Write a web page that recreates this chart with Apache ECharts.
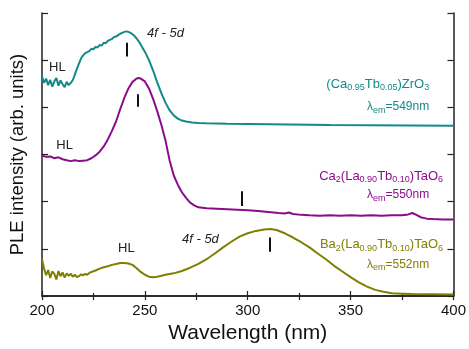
<!DOCTYPE html>
<html>
<head>
<meta charset="utf-8">
<script src="https://cdn.jsdelivr.net/npm/echarts@6/dist/echarts.min.js"></script>
<style>
  html, body { margin: 0; padding: 0; background: #fff; }
  #chart { width: 469px; height: 349px; }
</style>
</head>
<body>
<div id="chart"></div>
<script>
  // wavelength (nm) / intensity, offset curves stacked by hand
  const tealX = [200, 201, 202, 203, 204, 205, 206, 207, 208, 209, 210, 211, 212, 213, 214, 215, 216, 217, 218, 219,
    220, 221, 222, 223, 224, 225, 226, 227, 228, 229, 230, 231, 232, 233, 234, 235, 236, 237, 238, 239,
    240, 241, 242, 243, 244, 245, 246, 247, 248, 249, 250, 252, 254, 256, 258, 260, 262, 264, 266, 268,
    270, 273, 276, 280, 290, 300, 320, 340, 360, 380, 400]
  const tealY = [4.66, 4.52, 4.61, 4.47, 4.58, 4.44, 4.55, 4.62, 4.46, 4.57, 4.49, 4.43, 4.54, 4.47, 4.52, 4.58, 4.70, 4.82, 4.93, 5.04,
    5.10, 5.15, 5.17, 5.19, 5.24, 5.23, 5.28, 5.27, 5.32, 5.31, 5.37, 5.36, 5.41, 5.43, 5.45, 5.49, 5.50, 5.53, 5.56, 5.58,
    5.60, 5.61, 5.60, 5.58, 5.55, 5.51, 5.46, 5.40, 5.33, 5.25, 5.18, 5.00, 4.78, 4.53, 4.30, 4.10, 3.94, 3.83, 3.76, 3.72,
    3.70, 3.68, 3.67, 3.66, 3.65, 3.645, 3.635, 3.625, 3.62, 3.615, 3.61]

  const purpleX = [200, 202, 204, 206, 208, 210, 212, 214, 216, 218, 220, 222, 224, 226, 228, 230, 232, 234, 236, 238,
    240, 242, 244, 246, 247, 248, 250, 252, 254, 256, 258, 260, 262, 264, 266, 268, 270, 272, 274, 276,
    280, 285, 290, 295, 300, 305, 310, 315, 318, 320, 322, 326, 330, 335, 340, 345, 350, 355, 360, 365,
    370, 375, 378, 380, 382, 384, 387, 390, 395, 400]
  const purpleY = [2.98, 2.95, 2.96, 2.92, 2.94, 2.90, 2.88, 2.86, 2.88, 2.86, 2.87, 2.88, 2.92, 2.98, 3.06, 3.17, 3.32, 3.50, 3.70, 3.96,
    4.20, 4.40, 4.54, 4.61, 4.62, 4.61, 4.55, 4.40, 4.18, 3.92, 3.63, 3.30, 2.88, 2.56, 2.36, 2.20, 2.08, 1.98, 1.92, 1.88,
    1.86, 1.85, 1.84, 1.83, 1.82, 1.80, 1.78, 1.76, 1.75, 1.77, 1.74, 1.72, 1.71, 1.70, 1.71, 1.70, 1.71, 1.70, 1.71, 1.70,
    1.71, 1.71, 1.73, 1.76, 1.72, 1.67, 1.64, 1.63, 1.62, 1.62]

  const oliveX = [200, 201, 202, 203, 204, 205, 206, 207, 208, 209, 210, 211, 212, 213, 214, 215, 216, 217, 218, 219,
    220, 221, 222, 223, 224, 226, 228, 230, 232, 234, 236, 238, 240, 242, 244, 246, 248, 250, 252, 254,
    256, 258, 260, 264, 268, 272, 276, 280, 284, 288, 292, 296, 300, 304, 308, 311, 314, 318, 322, 324,
    326, 330, 334, 338, 342, 346, 350, 354, 358, 362, 366, 370, 375, 380, 390, 400]
  const oliveY = [0.78, 0.58, 0.44, 0.55, 0.38, 0.52, 0.47, 0.35, 0.53, 0.42, 0.50, 0.39, 0.48, 0.43, 0.47, 0.41, 0.45, 0.40, 0.42, 0.46,
    0.44, 0.47, 0.45, 0.49, 0.51, 0.54, 0.58, 0.61, 0.63, 0.66, 0.68, 0.70, 0.70, 0.69, 0.66, 0.59, 0.51, 0.45, 0.41, 0.40,
    0.41, 0.43, 0.45, 0.48, 0.53, 0.60, 0.68, 0.78, 0.90, 1.03, 1.15, 1.26, 1.33, 1.38, 1.41, 1.42, 1.40, 1.33, 1.24, 1.19,
    1.14, 1.03, 0.90, 0.78, 0.64, 0.52, 0.40, 0.29, 0.20, 0.13, 0.09, 0.06, 0.05, 0.04, 0.035, 0.03]

  // band position markers: [wavelength, yLow, yHigh]
  const tealMarks = [[241, 5.08, 5.37]]
  const purpleMarks = [[246.5, 4.01, 4.28], [297, 1.91, 2.22]]
  const oliveMarks = [[310.5, 0.94, 1.24]]

  const teal = '#138a8a'
  const purple = '#8b0c8b'
  const olive = '#7f7f00'

  function pairs(xs, ys) {
    return xs.map((x, i) => [x, ys[i]])
  }

  function marks(list) {
    return {
      silent: true,
      symbol: 'none',
      label: { show: false },
      lineStyle: { color: '#111', width: 2, type: 'solid' },
      data: list.map(m => [{ coord: [m[0], m[1]] }, { coord: [m[0], m[2]] }])
    }
  }

  function curve(name, xs, ys, color, list) {
    return {
      name: name,
      type: 'line',
      data: pairs(xs, ys),
      showSymbol: false,
      animation: false,
      lineStyle: { color: color, width: 2 },
      markLine: marks(list)
    }
  }

  const axisLine = { show: true, lineStyle: { color: '#222', width: 1.5 } }

  const chart = echarts.init(document.getElementById('chart'))
  chart.setOption({
    animation: false,
    grid: { left: 41.5, right: 11.5, top: 13, bottom: 50 },
    xAxis: [{
      type: 'value',
      position: 'bottom',
      min: 200,
      max: 400,
      interval: 50,
      axisLine: axisLine,
      axisTick: { inside: true, length: 5, lineStyle: { color: '#222', width: 1.2 } },
      minorTick: { show: true, splitNumber: 2, length: 3, lineStyle: { color: '#222', width: 1.2 } },
      splitLine: { show: false },
      axisLabel: { fontFamily: 'Liberation Sans', fontSize: 15, color: '#111', margin: 7 },
      name: 'Wavelength (nm)',
      nameLocation: 'middle',
      nameGap: 27,
      nameTextStyle: { fontFamily: 'Liberation Sans', fontSize: 21, color: '#111' }
    }, {
      type: 'value',
      position: 'top',
      min: 200,
      max: 400,
      interval: 25,
      axisLine: axisLine,
      axisTick: { inside: true, length: 4, lineStyle: { color: '#222', width: 1.2 } },
      splitLine: { show: false },
      axisLabel: { show: false }
    }],
    yAxis: [{
      type: 'value',
      position: 'left',
      min: 0,
      max: 6,
      interval: 1,
      axisLine: axisLine,
      axisTick: { inside: true, length: 6, lineStyle: { color: '#222', width: 1.2 } },
      splitLine: { show: false },
      axisLabel: { show: false },
      name: 'PLE intensity (arb. units)',
      nameLocation: 'middle',
      nameGap: 15,
      nameTextStyle: { fontFamily: 'Liberation Sans', fontSize: 18.5, color: '#111' }
    }, {
      type: 'value',
      position: 'right',
      min: 0,
      max: 6,
      interval: 1,
      axisLine: axisLine,
      axisTick: { inside: true, length: 6, lineStyle: { color: '#222', width: 1.2 } },
      splitLine: { show: false },
      axisLabel: { show: false }
    }],
    series: [
      curve('(Ca0.95Tb0.05)ZrO3', tealX, tealY, teal, tealMarks),
      curve('Ca2(La0.90Tb0.10)TaO6', purpleX, purpleY, purple, purpleMarks),
      curve('Ba2(La0.90Tb0.10)TaO6', oliveX, oliveY, olive, oliveMarks)
    ]
  })

  // text annotations placed in data coordinates
  const sub = { fontSize: 9, padding: [7, 0, 0, 0] }
  function label(pos, text, opts) {
    const p = chart.convertToPixel({ gridIndex: 0 }, pos)
    const size = opts.size || 13
    return {
      type: 'text',
      x: p[0],
      y: p[1],
      silent: true,
      style: {
        text: text,
        fill: opts.color || '#222',
        font: (opts.italic ? 'italic ' : '') + size + 'px "Liberation Sans"',
        fontFamily: 'Liberation Sans',
        fontSize: size,
        fontStyle: opts.italic ? 'italic' : 'normal',
        align: opts.align || 'center',
        verticalAlign: 'middle',
        rich: {
          s: Object.assign({ fill: opts.color || '#222', fontFamily: 'Liberation Sans' }, sub)
        }
      }
    }
  }

  chart.setOption({
    graphic: [
      label([207.5, 4.85], 'HL', {}),
      label([260, 5.56], '4f - 5d', { italic: true }),
      label([211, 3.19], 'HL', {}),
      label([241, 1.01], 'HL', {}),
      label([277, 1.20], '4f - 5d', { italic: true }),
      label([388.2, 4.49], '(Ca{s|0.95}Tb{s|0.05})ZrO{s|3}', { color: teal, align: 'right' }),
      label([388.2, 4.01], 'λ{s|em}=549nm', { color: teal, align: 'right', size: 12 }),
      label([394.9, 2.54], 'Ca{s|2}(La{s|0.90}Tb{s|0.10})TaO{s|6}', { color: purple, align: 'right' }),
      label([388.2, 2.14], 'λ{s|em}=550nm', { color: purple, align: 'right', size: 12 }),
      label([394.9, 1.09], 'Ba{s|2}(La{s|0.90}Tb{s|0.10})TaO{s|6}', { color: olive, align: 'right' }),
      label([388.2, 0.67], 'λ{s|em}=552nm', { color: olive, align: 'right', size: 12 })
    ]
  })
</script>
</body>
</html>
